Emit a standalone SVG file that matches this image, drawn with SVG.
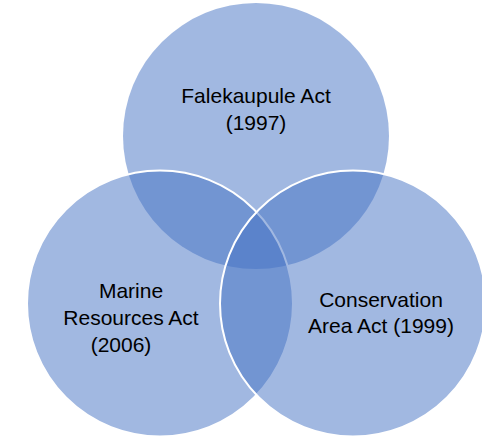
<svg xmlns="http://www.w3.org/2000/svg" width="482" height="438" viewBox="0 0 482 438">
<style>
.c{fill:#4472C4;fill-opacity:0.5;stroke:#FFFFFF;stroke-width:2}
.t{font-family:"Liberation Sans",Arial,sans-serif;font-size:21px;fill:#000000;text-anchor:middle}
</style>
<rect width="482" height="438" fill="#FFFFFF"/>
<g id="falekaupule">
<circle cx="256" cy="136" r="133" fill="#4472C4" fill-opacity="0.5"/>
<text class="t" x="256" y="103">Falekaupule Act</text>
<text class="t" x="256" y="130">(1997)</text>
</g>
<g id="marine">
<circle class="c" cx="160" cy="303.5" r="133"/>
<text class="t" x="131" y="298">Marine</text>
<text class="t" x="131" y="325">Resources Act</text>
<text class="t" x="121" y="352">(2006)</text>
</g>
<g id="conservation">
<circle class="c" cx="353" cy="303.5" r="133"/>
<text class="t" x="381" y="307">Conservation</text>
<text class="t" x="381" y="333">Area Act (1999)</text>
</g>
<g id="connectors"></g>
</svg>
